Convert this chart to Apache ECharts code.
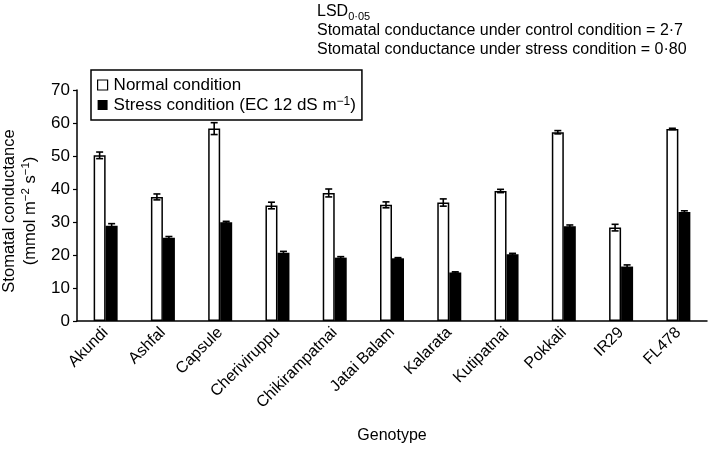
<!DOCTYPE html>
<html>
<head>
<meta charset="utf-8">
<script src="https://cdn.jsdelivr.net/npm/echarts@6/dist/echarts.min.js"></script>
<style>
html,body{margin:0;padding:0;background:#fff;}
#chart{width:708px;height:449px;}
</style>
</head>
<body>
<div id="chart"></div>
<script>
var categories = ['Akundi','Ashfal','Capsule','Cheriviruppu','Chikirampatnai','Jatai Balam','Kalarata','Kutipatnai','Pokkali','IR29','FL478'];
var normalValues = [50.2, 37.6, 58.3, 35.0, 38.8, 35.2, 35.9, 39.4, 57.2, 28.3, 58.2];
var stressValues = [28.9, 25.2, 29.9, 20.7, 19.2, 19.0, 14.7, 20.2, 28.7, 16.5, 33.0];
var normalErrors = [1.0, 0.9, 1.8, 1.0, 1.2, 0.9, 1.1, 0.5, 0.5, 1.0, 0.2];
var stressErrors = [0.6, 0.4, 0.3, 0.4, 0.3, 0.2, 0.2, 0.3, 0.4, 0.5, 0.4];
var yTicks = [0, 10, 20, 30, 40, 50, 60, 70];

var FONT = '"Liberation Sans", Arial, Helvetica, sans-serif';
var BAR_W = 12;

function errData(vals, errs) {
  return vals.map(function (v, i) { return [i, v, errs[i]]; });
}
function errRender(offset) {
  return function (params, api) {
    var i = api.value(0), v = api.value(1), e = api.value(2);
    var top = api.coord([i, v + e]);
    var bot = api.coord([i, v - e]);
    var x = top[0] + offset;
    var cap = 3.5;
    var st = { stroke: '#000', lineWidth: 1.6 };
    return {
      type: 'group',
      children: [
        { type: 'line', shape: { x1: x, y1: top[1], x2: x, y2: bot[1] }, style: st },
        { type: 'line', shape: { x1: x - cap, y1: top[1], x2: x + cap, y2: top[1] }, style: st },
        { type: 'line', shape: { x1: x - cap, y1: bot[1], x2: x + cap, y2: bot[1] }, style: st }
      ]
    };
  };
}

var chart = echarts.init(document.getElementById('chart'), null, { renderer: 'canvas' });
chart.setOption({
  backgroundColor: '#fff',
  animation: false,
  textStyle: { fontFamily: FONT, color: '#000' },
  grid: { left: 77, right: 1, top: 90, bottom: 118.5, containLabel: false },
  legend: {
    orient: 'vertical',
    left: 91,
    top: 70,
    padding: [6, 6, 6, 6],
    borderColor: '#000',
    borderWidth: 1.5,
    itemWidth: 10,
    itemHeight: 10,
    itemGap: 2,
    textStyle: {
      fontFamily: FONT, fontSize: 17, color: '#000', lineHeight: 18, padding: [0, 0, 0, 1],
      rich: {
        t: { fontFamily: FONT, fontSize: 17, color: '#000', lineHeight: 18 },
        sup: { fontFamily: FONT, fontSize: 12, color: '#000', lineHeight: 10, verticalAlign: 'top' }
      }
    },
    data: [
      { name: 'Normal condition', icon: 'rect', itemStyle: { color: '#fff', borderColor: '#000', borderWidth: 1.2 } },
      { name: 'Stress condition', icon: 'rect', itemStyle: { color: '#000', borderColor: '#000', borderWidth: 0 } }
    ],
    formatter: function (name) {
      if (name === 'Stress condition') return '{t|Stress condition (EC 12 dS m}{sup|\u22121}{t|)}';
      return '{t|' + name + '}';
    }
  },
  xAxis: {
    type: 'category',
    data: categories,
    name: 'Genotype',
    nameLocation: 'middle',
    nameGap: 107,
    nameTextStyle: { fontFamily: FONT, fontSize: 16, color: '#000' },
    axisLine: { lineStyle: { color: '#000', width: 1.5 } },
    axisTick: { show: false },
    axisLabel: { interval: 0, rotate: 45, fontFamily: FONT, fontSize: 16, color: '#000', margin: 9 }
  },
  yAxis: {
    type: 'value',
    min: yTicks[0],
    max: yTicks[yTicks.length - 1],
    interval: 10,
    splitLine: { show: false },
    axisLine: { show: true, lineStyle: { color: '#000', width: 1.5 } },
    axisTick: { show: true, length: 4, lineStyle: { color: '#000', width: 1.2 } },
    axisLabel: { fontFamily: FONT, fontSize: 17, color: '#000', margin: 7 }
  },
  graphic: [
    {
      type: 'text', x: 20, y: 211, rotation: Math.PI / 2,
      style: {
        text: '{t|Stomatal conductance}\n{t|(mmol m}{sup|\u22122}{t| s}{sup|\u22121}{t|)}',
        align: 'center', verticalAlign: 'middle', fill: '#000',
        rich: {
          t: { fontFamily: FONT, fontSize: 16.5, fill: '#000', lineHeight: 21 },
          sup: { fontFamily: FONT, fontSize: 11.5, fill: '#000', lineHeight: 11, verticalAlign: 'top' }
        }
      }
    },
    {
      type: 'text', x: 317, y: 12,
      style: {
        text: '{t|LSD}{sub|0\u00b705}',
        align: 'left', verticalAlign: 'middle', fill: '#000',
        rich: {
          t: { fontFamily: FONT, fontSize: 16, fill: '#000', lineHeight: 20 },
          sub: { fontFamily: FONT, fontSize: 11, fill: '#000', lineHeight: 11, verticalAlign: 'bottom' }
        }
      }
    },
    {
      type: 'text', x: 317, y: 31,
      style: { text: 'Stomatal conductance under control condition = 2\u00b77', font: '16px ' + FONT, fill: '#000', align: 'left', verticalAlign: 'middle' }
    },
    {
      type: 'text', x: 317, y: 50,
      style: { text: 'Stomatal conductance under stress condition = 0\u00b780', font: '16px ' + FONT, fill: '#000', align: 'left', verticalAlign: 'middle' }
    }
  ],
  series: [
    {
      name: 'Normal condition', type: 'bar', data: normalValues, barWidth: BAR_W, barGap: '0%',
      itemStyle: { color: '#fff', borderColor: '#000', borderWidth: 1.5 }, z: 2
    },
    {
      name: 'Stress condition', type: 'bar', data: stressValues, barWidth: BAR_W, barGap: '0%',
      itemStyle: { color: '#000', borderColor: '#000', borderWidth: 0 }, z: 2
    },
    {
      name: 'errN', type: 'custom', data: errData(normalValues, normalErrors),
      renderItem: errRender(-BAR_W / 2), z: 5, silent: true
    },
    {
      name: 'errS', type: 'custom', data: errData(stressValues, stressErrors),
      renderItem: errRender(BAR_W / 2), z: 5, silent: true
    }
  ]
});
</script>
</body>
</html>
